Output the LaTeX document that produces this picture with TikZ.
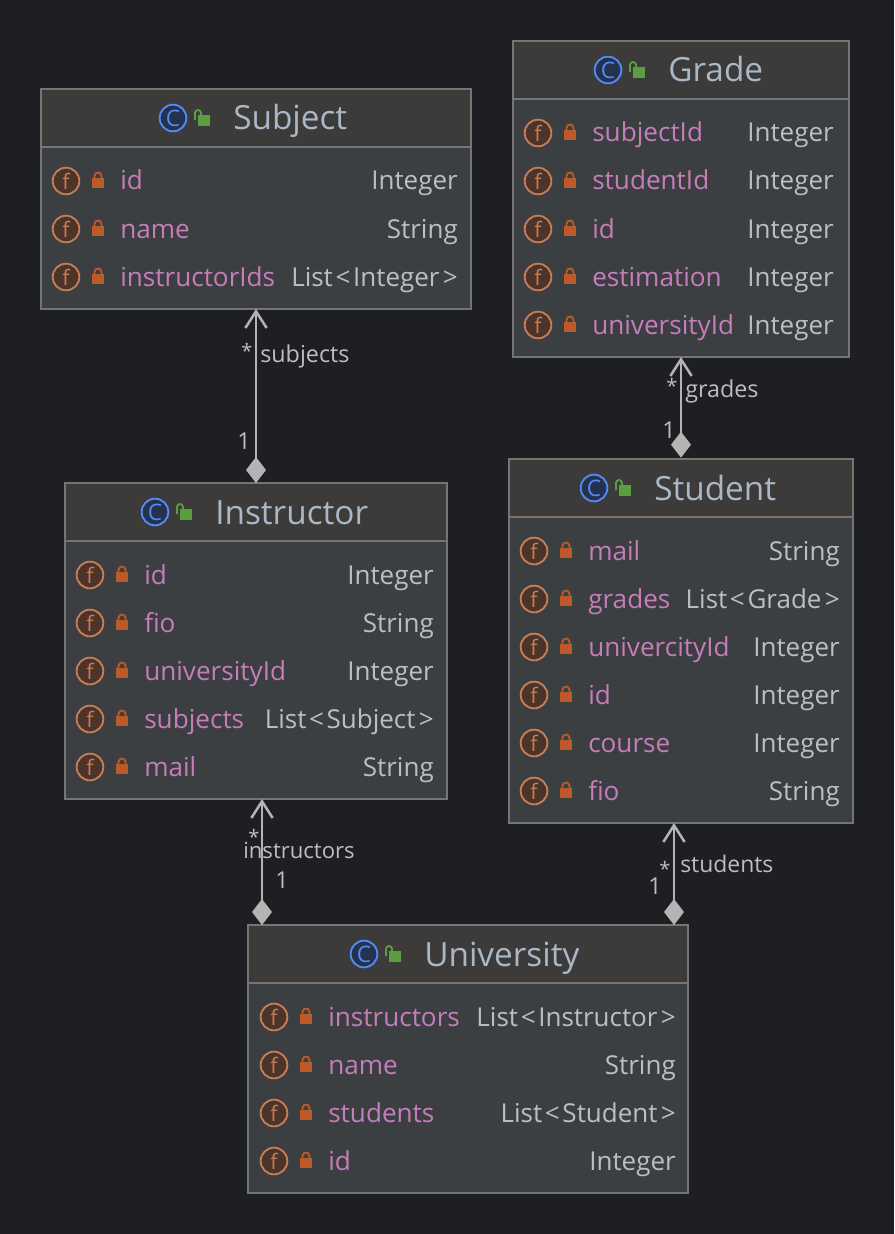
\documentclass[tikz,border=0pt]{standalone}
\usepackage{fontspec}
\setmainfont{Open Sans}
\usetikzlibrary{arrows.meta}
\definecolor{DiagBack}{HTML}{1E1F22}
\definecolor{BoxBody}{HTML}{3B3F42}
\definecolor{BoxHead}{HTML}{3C3B3A}
\definecolor{BoxEdge}{HTML}{757575}
\definecolor{FieldName}{HTML}{C77DBB}
\definecolor{TypeText}{HTML}{BCBEC4}
\definecolor{TitleText}{HTML}{A9B7C6}
\definecolor{FieldIcon}{HTML}{C77D55}
\definecolor{FieldFill}{HTML}{4B3429}
\definecolor{ClassIcon}{HTML}{548AF7}
\definecolor{ClassFill}{HTML}{25324D}
\definecolor{LockRed}{HTML}{BC5A2A}
\definecolor{LockGreen}{HTML}{5A9E40}
\definecolor{LinkGrey}{HTML}{B4B4B4}
\tikzset{
  classbox/.style={draw=BoxEdge, fill=BoxBody, line width=1.2pt, inner sep=0pt, outer sep=0pt},
  headbox/.style={draw=BoxEdge, fill=BoxHead, line width=1.2pt, inner sep=0pt, outer sep=0pt},
  title/.style={TitleText, anchor=base west, inner sep=0pt, font=\fontsize{25}{28}\selectfont},
  fieldname/.style={FieldName, anchor=base west, inner sep=0pt, font=\fontsize{19.6}{24}\selectfont},
  fieldtype/.style={TypeText, anchor=base east, inner sep=0pt, font=\fontsize{19.5}{24}\selectfont},
  fieldicon/.style={circle, draw=FieldIcon, fill=FieldFill, line width=1.4pt, minimum size=20pt,
    inner sep=0pt, text=FieldIcon, font=\fontsize{16}{16}\selectfont},
  classicon/.style={circle, draw=ClassIcon, fill=ClassFill, line width=1.4pt, minimum size=20pt,
    inner sep=0pt, text=ClassIcon, font=\fontsize{17}{17}\selectfont},
  linklabel/.style={TypeText, inner sep=0pt, font=\fontsize{17.5}{20}\selectfont},
  manylabel/.style={TypeText, inner sep=0pt, font=\fontsize{15}{15}\selectfont},
  rolelabel/.style={linklabel, anchor=base west},
  link/.style={LinkGrey, line width=1.9pt,
    {Straight Barb[length=12.5pt, width=16pt, line width=1.9pt]}-{Diamond[length=19.5pt, width=15pt, fill=LinkGrey]}},
}
% generic list type with the wide brackets of the picture
\newcommand{\listof}[1]{List\kern2pt<\kern2pt#1\kern2.5pt>}
% one row of a class: box, y, name, type, circle x, type x
\newcommand{\fieldrow}[6]{
  \node[fieldicon] (#1-#3-icon) at (#5,#2) {f};
  \fill[LockRed] (#5+26,#2-3) rectangle (#5+38,#2+7);
  \draw[LockRed, line width=1.4pt] (#5+28.5,#2-3) -- (#5+28.5,#2-5) arc[start angle=180, end angle=360, radius=3.5] -- (#5+35.5,#2-3);
  \node[fieldname] (#1-#3-name) at (#5+54,#2+9) {#3};
  \node[fieldtype] (#1-#3-type) at (#6,#2+9) {#4};
}
% header of a class: box, C icon x, y, title
\newcommand{\classhead}[4]{
  \node[classicon] (#1-icon) at (#2,#3) {C};
  \fill[LockGreen] (#2+25,#3-3) rectangle (#2+37,#3+8);
  \draw[LockGreen, line width=1.4pt] (#2+22,#3+2) -- (#2+22,#3-5) arc[start angle=180, end angle=360, radius=3] -- (#2+28,#3-3);
  \node[title] (#1-title) at (#2+60,#3+12) {#4};
}
\begin{document}
\begin{tikzpicture}[x=0.75pt, y=-0.75pt]
  \useasboundingbox[fill=DiagBack] (0,0) rectangle (894,1234);

  % Subject
  \node[classbox, minimum width=322.5pt, minimum height=165pt] (subject) at (256,199) {};
  \node[headbox, minimum width=322.5pt, minimum height=43.5pt, anchor=north] (subject-head) at (subject.north) {};
  \classhead{subject}{173}{118}{Subject}
  \fieldrow{subject}{181}{id}{Integer}{66}{458}
  \fieldrow{subject}{229}{name}{String}{66}{458}
  \fieldrow{subject}{277}{instructorIds}{\listof{Integer}}{66}{458}

  % Grade
  \node[classbox, minimum width=252pt, minimum height=237pt] (grade) at (681,199) {};
  \node[headbox, minimum width=252pt, minimum height=43.5pt, anchor=north] (grade-head) at (grade.north) {};
  \classhead{grade}{608}{70}{Grade}
  \fieldrow{grade}{133}{subjectId}{Integer}{538}{834}
  \fieldrow{grade}{181}{studentId}{Integer}{538}{834}
  \fieldrow{grade}{229}{id}{Integer}{538}{834}
  \fieldrow{grade}{277}{estimation}{Integer}{538}{834}
  \fieldrow{grade}{325}{universityId}{Integer}{538}{834}

  % Instructor
  \node[classbox, minimum width=286.5pt, minimum height=237pt] (instructor) at (256,641) {};
  \node[headbox, minimum width=286.5pt, minimum height=43.5pt, anchor=north] (instructor-head) at (instructor.north) {};
  \classhead{instructor}{155}{512}{Instructor}
  \fieldrow{instructor}{575}{id}{Integer}{90}{434}
  \fieldrow{instructor}{623}{fio}{String}{90}{434}
  \fieldrow{instructor}{671}{universityId}{Integer}{90}{434}
  \fieldrow{instructor}{719}{subjects}{\listof{Subject}}{90}{434}
  \fieldrow{instructor}{767}{mail}{String}{90}{434}

  % Student
  \node[classbox, minimum width=258pt, minimum height=273pt] (student) at (681,641) {};
  \node[headbox, minimum width=258pt, minimum height=43.5pt, anchor=north] (student-head) at (student.north) {};
  \classhead{student}{594}{488}{Student}
  \fieldrow{student}{551}{mail}{String}{534}{840}
  \fieldrow{student}{599}{grades}{\listof{Grade}}{534}{840}
  \fieldrow{student}{647}{univercityId}{Integer}{534}{840}
  \fieldrow{student}{695}{id}{Integer}{534}{840}
  \fieldrow{student}{743}{course}{Integer}{534}{840}
  \fieldrow{student}{791}{fio}{String}{534}{840}

  % University
  \node[classbox, minimum width=330pt, minimum height=201pt] (university) at (468,1059) {};
  \node[headbox, minimum width=330pt, minimum height=43.5pt, anchor=north] (university-head) at (university.north) {};
  \classhead{university}{364}{954}{University}
  \fieldrow{university}{1017}{instructors}{\listof{Instructor}}{274}{676}
  \fieldrow{university}{1065}{name}{String}{274}{676}
  \fieldrow{university}{1113}{students}{\listof{Student}}{274}{676}
  \fieldrow{university}{1161}{id}{Integer}{274}{676}

  % Links, the diamond sits on the owner
  \draw[link] (subject.south) -- (instructor.north);
  \draw[link] (grade.south) -- ([yshift=1pt]student.north);
  \draw[link] ([xshift=4.5pt]instructor.south) -- ([xshift=4.5pt]instructor.south |- university.north);
  \draw[link] ([xshift=-5.25pt]student.south) -- ([xshift=-5.25pt]student.south |- university.north);

  % Link labels
  \node[manylabel] (subjects-many) at (247,351) {*};
  \node[rolelabel] (subjects-role) at (260,362) {subjects};
  \node[linklabel] (subjects-one) at (244,441) {1};
  \node[manylabel] (grades-many) at (672,386) {*};
  \node[rolelabel] (grades-role) at (685,397) {grades};
  \node[linklabel] (grades-one) at (669,430) {1};
  \node[manylabel] (instructors-many) at (254,837) {*};
  \node[rolelabel, font=\fontsize{16.6}{20}\selectfont] (instructors-role) at (243,858) {instructors};
  \node[linklabel] (instructors-one) at (282,880) {1};
  \node[manylabel] (students-many) at (665,869) {*};
  \node[rolelabel, font=\fontsize{17.2}{20}\selectfont] (students-role) at (680,872) {students};
  \node[linklabel] (students-one) at (655,886) {1};
\end{tikzpicture}
\end{document}
